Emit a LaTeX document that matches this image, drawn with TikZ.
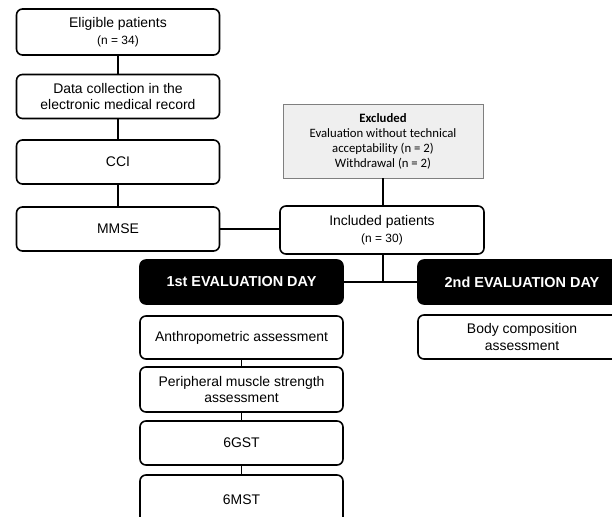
\documentclass[tikz,border=0pt]{standalone}
\usepackage{fontspec}
\setmainfont{Liberation Sans}
\newfontfamily\exclfont{Carlito}
\definecolor{exclgray}{HTML}{EFEFEF}
\definecolor{exclline}{HTML}{7F7F7F}
\begin{document}
\begin{tikzpicture}[x=1bp, y=-1bp,
  box/.style={draw, line width=1.6bp, rounded corners=6bp, minimum width=203bp,
    minimum height=44bp, align=center, inner sep=0pt,
    font=\fontsize{14}{17}\selectfont},
  daybox/.style={box, fill=black, text=white, font=\bfseries\fontsize{14.5}{17}\selectfont},
  exclbox/.style={draw=exclline, fill=exclgray, line width=0.8bp, minimum width=200bp,
    minimum height=74bp, align=center, inner sep=0pt,
    font=\exclfont\fontsize{12.8}{15}\selectfont},
  link/.style={line width=1.6bp}]
\useasboundingbox (0,0) rectangle (612,517);
\clip (0,0) rectangle (612,517);

% screening column
\node[box, minimum height=46bp] (elig) at (118, 32) {Eligible patients\\{\fontsize{12}{14}\selectfont (n = 34)}};
\node[box] (data) at (118, 96.5) {Data collection in the\\electronic medical record};
\node[box] (cci) at (118, 162) {CCI};
\node[box] (mmse) at (118, 229) {MMSE};

\draw[link] (elig) -- (data);
\draw[link] (data) -- (cci);
\draw[link] (cci) -- (mmse);

% exclusions
\node[exclbox] (excl) at (383, 141) {\textbf{Excluded}\\Evaluation without technical\\acceptability (n = 2)\\Withdrawal (n = 2)};
\node[box, minimum width=204bp, minimum height=48bp] (incl) at (382, 230) {Included patients\\{\fontsize{12}{14}\selectfont (n = 30)}};

\draw[link] (mmse.east) -- (mmse.east -| incl.west);
\draw[link] (excl.south) -- (excl.south |- incl.north);

% evaluation days
\node[daybox] (day1) at (241.5, 282) {1st EVALUATION DAY};
\node[daybox, minimum width=208bp] (day2) at (522, 282) {2nd EVALUATION DAY};
\coordinate (split) at (383, 282);

\draw[link] (incl.south -| split) -- (split);
\draw[link] (day1.east) -- (day2.west);

\node[box, minimum height=43bp] (anthro) at (241.5, 337.5) {Anthropometric assessment};
\node[box, minimum width=208bp] (body) at (522, 337) {Body composition\\assessment};
\node[box, minimum height=45bp] (periph) at (241.5, 389.5) {Peripheral muscle strength\\assessment};
\node[box] (gst) at (241.5, 443) {6GST};
\node[box, minimum height=50bp] (mst) at (241.5, 500) {6MST};

\draw[link] (anthro) -- (periph);
\draw[link] (periph) -- (gst);
\draw[link] (gst) -- (mst);
\end{tikzpicture}
\end{document}
